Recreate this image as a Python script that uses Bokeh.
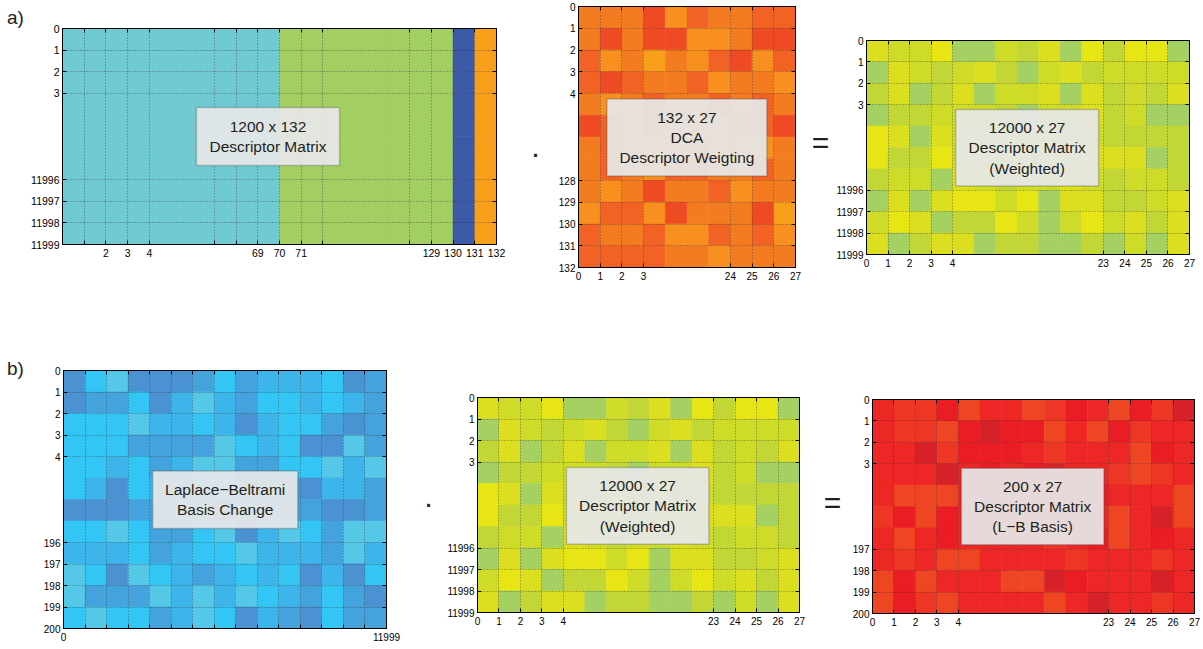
import numpy as np
from bokeh.plotting import figure
from bokeh.models import Range1d, FixedTicker, BoxAnnotation, Label, ColumnDataSource, LinearAxis
from bokeh.layouts import row, column
from bokeh.core.properties import value
from bokeh.embed import file_html
from bokeh.resources import INLINE

FONT = "Liberation Sans"

# ---------------- data ----------------
# a1: 1200 x 132 descriptor matrix (column groups)
a1_columns = [0, 0, 0, 0, 0, 0, 0, 0, 0, 0, 1, 1, 1, 1, 1, 1, 1, 1, 2, 3]
a1_nrows = 10
a1_palette = ["#6fcad1", "#a3cf62", "#3c5aa8", "#f8a01c"]
a1_xticks = [1, 2, 3, 4, 7, 8, 9, 10, 11, 12, 16, 17, 18, 19, 20]
a1_xlabels = ["", "2", "3", "4", "", "", "69", "70", "71", "", "", "129", "130", "131", "132"]
a1_yticks = [0, 1, 2, 3, 7, 8, 9, 10]
a1_ylabels = ["0", "1", "2", "3", "11996", "11997", "11998", "11999"]

# a2: 132 x 27 DCA weighting
a2_dca = [
    [2, 2, 2, 4, 1, 3, 2, 2, 3, 3],
    [2, 4, 2, 4, 4, 1, 1, 2, 4, 4],
    [3, 1, 2, 0, 2, 1, 3, 4, 1, 3],
    [3, 4, 3, 2, 2, 3, 1, 2, 2, 1],
    [2, 1, 2, 3, 2, 2, 3, 2, 3, 2],
    [4, 3, 2, 3, 2, 1, 2, 3, 3, 4],
    [2, 3, 2, 1, 2, 3, 2, 2, 1, 2],
    [2, 3, 2, 1, 3, 3, 2, 2, 3, 2],
    [2, 1, 2, 4, 2, 2, 3, 1, 2, 2],
    [1, 3, 3, 1, 4, 2, 2, 2, 4, 0],
    [3, 2, 2, 3, 1, 1, 3, 2, 3, 1],
    [3, 3, 3, 3, 2, 2, 1, 2, 2, 2],
]
a2_palette = ["#f8a01c", "#f7901e", "#f47c20", "#f16224", "#ee4b25"]
a2_xticks = [0, 1, 2, 3, 7, 8, 9, 10]
a2_xlabels = ["0", "1", "2", "3", "24", "25", "26", "27"]
a2_yticks = [0, 1, 2, 3, 4, 8, 9, 10, 11, 12]
a2_ylabels = ["0", "1", "2", "3", "4", "128", "129", "130", "131", "132"]

# a3 / b2: 12000 x 27 weighted descriptor matrix
weighted = [
    [1, 2, 2, 0, 4, 4, 2, 3, 1, 4, 0, 3, 0, 0, 4],
    [4, 1, 2, 3, 2, 1, 3, 4, 2, 1, 3, 2, 2, 2, 2],
    [3, 1, 4, 3, 1, 4, 2, 2, 1, 4, 1, 3, 2, 3, 1],
    [4, 3, 3, 2, 2, 2, 3, 4, 2, 2, 1, 3, 2, 4, 4],
    [0, 1, 4, 1, 2, 3, 2, 1, 2, 3, 2, 3, 3, 3, 3],
    [0, 3, 3, 0, 2, 1, 2, 3, 1, 2, 1, 1, 1, 4, 3],
    [3, 2, 2, 4, 1, 2, 3, 2, 2, 1, 2, 3, 2, 2, 3],
    [4, 1, 4, 1, 0, 0, 2, 0, 4, 1, 1, 3, 3, 2, 1],
    [2, 0, 1, 4, 3, 3, 0, 2, 4, 2, 0, 2, 1, 3, 1],
    [1, 4, 3, 1, 1, 4, 3, 3, 4, 4, 3, 4, 2, 4, 1],
]
weighted_palette = ["#e8e514", "#dcdf1f", "#cfdb29", "#c2d636", "#a5d062"]
w_xticks = [0, 1, 2, 3, 4, 11, 12, 13, 14, 15]
w_xlabels = ["0", "1", "2", "3", "4", "23", "24", "25", "26", "27"]
w_yticks = [0, 1, 2, 3, 7, 8, 9, 10]
w_ylabels = ["0", "1", "2", "3", "11996", "11997", "11998", "11999"]

# b1: Laplace-Beltrami basis change
b1_basis = [
    [4, 0, 1, 4, 4, 4, 3, 0, 3, 2, 2, 2, 0, 4, 3],
    [4, 3, 3, 0, 4, 2, 1, 2, 3, 0, 0, 2, 0, 2, 3],
    [0, 0, 0, 1, 2, 2, 0, 2, 4, 2, 0, 0, 3, 4, 3],
    [0, 0, 0, 3, 3, 3, 3, 1, 0, 2, 0, 4, 4, 1, 3],
    [0, 0, 2, 0, 3, 2, 1, 1, 3, 3, 0, 0, 1, 2, 1],
    [0, 2, 4, 0, 2, 3, 0, 2, 3, 2, 3, 4, 2, 2, 3],
    [4, 4, 4, 3, 3, 2, 3, 4, 2, 3, 3, 3, 4, 4, 3],
    [0, 0, 1, 0, 3, 3, 0, 1, 4, 2, 1, 0, 3, 1, 1],
    [2, 2, 2, 0, 3, 2, 0, 0, 1, 2, 2, 2, 3, 1, 2],
    [1, 0, 4, 1, 0, 2, 3, 2, 0, 2, 0, 4, 2, 4, 0],
    [1, 3, 3, 3, 1, 2, 1, 2, 1, 0, 2, 3, 0, 3, 4],
    [0, 1, 0, 0, 3, 2, 1, 0, 4, 2, 3, 4, 0, 3, 3],
]
b1_palette = ["#33c6f4", "#55c8e8", "#3eb5ea", "#44a2dc", "#4b92d2"]
b1_xticks = [0, 1, 2, 3, 4, 5, 6, 7, 8, 9, 10, 11, 12, 13, 14, 15]
b1_xlabels = ["0", "", "", "", "", "", "", "", "", "", "", "", "", "", "", "11999"]
b1_yticks = [0, 1, 2, 3, 4, 8, 9, 10, 11, 12]
b1_ylabels = ["0", "1", "2", "3", "4", "196", "197", "198", "199", "200"]

# b3: 200 x 27 descriptor matrix in L-B basis
b3_lb = [
    [2, 1, 1, 3, 0, 2, 2, 0, 1, 3, 2, 0, 3, 1, 4],
    [2, 1, 1, 0, 3, 4, 3, 3, 0, 2, 0, 3, 1, 2, 2],
    [2, 2, 4, 1, 3, 3, 3, 2, 1, 2, 2, 2, 0, 3, 2],
    [2, 2, 2, 4, 2, 3, 2, 3, 4, 2, 2, 1, 0, 1, 2],
    [2, 0, 0, 0, 2, 2, 3, 2, 2, 2, 3, 2, 2, 2, 0],
    [1, 3, 0, 3, 2, 2, 2, 3, 2, 2, 2, 0, 2, 4, 0],
    [2, 0, 2, 3, 2, 2, 2, 2, 1, 2, 3, 0, 2, 3, 2],
    [2, 1, 2, 0, 0, 2, 2, 2, 2, 1, 2, 2, 2, 1, 2],
    [0, 3, 0, 2, 2, 2, 0, 0, 4, 3, 2, 2, 2, 4, 2],
    [0, 3, 1, 0, 2, 2, 2, 2, 0, 2, 4, 2, 2, 1, 2],
]
b3_palette = ["#ee4523", "#ee3624", "#ec2725", "#ea1d24", "#d72128"]
b3_yticks = [0, 1, 2, 3, 7, 8, 9, 10]
b3_ylabels = ["0", "1", "2", "3", "197", "198", "199", "200"]

# box captions
a1_caption = ["1200 x 132", "Descriptor Matrix"]
a2_caption = ["132 x 27", "DCA", "Descriptor Weigting"]
w_caption = ["12000 x 27", "Descriptor Matrix", "(Weighted)"]
b1_caption = ["Laplace\u2212Beltrami", "Basis Change"]
b3_caption = ["200 x 27", "Descriptor Matrix", "(L\u2212B Basis)"]


def style_axis(ax, ticks, labels, standoff, size, show_labels=True):
    ax.ticker = FixedTicker(ticks=ticks)
    ax.major_tick_in = 4
    ax.major_tick_out = 0
    ax.minor_tick_in = 0
    ax.minor_tick_out = 0
    ax.major_tick_line_color = "black"
    ax.axis_line_color = "black"
    if show_labels:
        ax.major_label_overrides = {t: l for t, l in zip(ticks, labels)}
        ax.major_label_text_font = FONT
        ax.major_label_text_font_size = size
        ax.major_label_text_color = "black"
        ax.major_label_standoff = standoff
    else:
        ax.major_label_overrides = {t: "" for t in ticks}
        ax.major_label_text_font_size = "0px"
        ax.major_label_standoff = 0


def make_panel(mat, palette, fw, fh, borders, xt, xl, yt, yl, box, caption, tick_size="10px"):
    mat = np.asarray(mat)
    nrows, ncols = mat.shape
    bl, br, bt, bb = borders
    p = figure(frame_width=fw, frame_height=fh, title=None,
               x_range=Range1d(0, ncols), y_range=Range1d(nrows, 0),
               output_backend="svg", toolbar_location=None,
               min_border_left=bl, min_border_right=br,
               min_border_top=bt, min_border_bottom=bb)
    p.frame_align = False
    p.background_fill_color = "white"
    p.border_fill_color = "white"
    p.outline_line_color = "black"
    p.outline_line_width = 1

    ri, ci = np.indices(mat.shape)
    src = ColumnDataSource(dict(
        left=ci.ravel(), right=ci.ravel() + 1,
        top=ri.ravel(), bottom=ri.ravel() + 1,
        color=[palette[v] for v in mat.ravel()],
    ))
    p.quad(left="left", right="right", top="top", bottom="bottom",
           fill_color="color", line_color="color", line_width=0.6, source=src)

    style_axis(p.xaxis[0], xt, xl, 4, tick_size)
    style_axis(p.yaxis[0], yt, yl, 3, tick_size)
    top_ax = LinearAxis()
    right_ax = LinearAxis()
    style_axis(top_ax, xt, xl, 0, tick_size, show_labels=False)
    style_axis(right_ax, yt, yl, 0, tick_size, show_labels=False)
    p.add_layout(top_ax, "above")
    p.add_layout(right_ax, "right")

    for g in (p.xgrid[0], p.ygrid[0]):
        g.grid_line_color = "#202020"
        g.grid_line_dash = "1 2"
        g.grid_line_alpha = 0.7
        g.grid_line_width = 0.8
        g.level = "guide"

    x0, x1, y0, y1 = box
    p.add_layout(BoxAnnotation(left=x0, right=x1, top=y0, bottom=y1,
                               fill_color="#e6e7e8", fill_alpha=0.93,
                               line_color="#4a4a4a", line_width=1.5))
    p.add_layout(Label(x=(x0 + x1) / 2, y=(y0 + y1) / 2, text="\n".join(caption),
                       text_align="center", text_baseline="middle",
                       text_font=FONT, text_font_size="15.5px",
                       text_color="#231f20", text_line_height=1.2))
    return p


def make_symbol(text, w, h, cx, cy, size):
    s = figure(frame_width=w, frame_height=h, title=None,
               x_range=Range1d(0, w), y_range=Range1d(h, 0),
               x_axis_location=None, y_axis_location=None,
               output_backend="svg", toolbar_location=None,
               min_border=0)
    s.frame_align = False
    s.grid.visible = False
    s.outline_line_color = None
    s.background_fill_color = "white"
    s.border_fill_color = "white"
    s.text(x=[cx], y=[cy], text=[text], text_align="center", text_baseline="middle",
           text_font=value(FONT), text_font_size=value(size), text_color="#231f20")
    return s


TOP_H = 298
BOT_H = 348

a1_mat = [a1_columns for _ in range(a1_nrows)]

sa = make_symbol("a)", 26, TOP_H, 15, 17, "19px")
pa1 = make_panel(a1_mat, a1_palette, 434, 216, (36, 10, 28, 54),
                 a1_xticks, a1_xlabels, a1_yticks, a1_ylabels,
                 (6.17, 12.77, 3.66, 6.34), a1_caption, tick_size="10.5px")
sd_a = make_symbol("\u00b7", 38, TOP_H, 29, 152, "30px")
pa2 = make_panel(a2_dca, a2_palette, 217, 261, (34, 8, 6, 31),
                 a2_xticks, a2_xlabels, a2_yticks, a2_ylabels,
                 (1.31, 8.68, 4.25, 7.79), a2_caption)
se_a = make_symbol("=", 30, TOP_H, 17, 142, "30px")
pa3 = make_panel(weighted, weighted_palette, 323, 214, (32, 10, 40, 44),
                 w_xticks, w_xlabels, w_yticks, w_ylabels,
                 (4.14, 10.78, 3.22, 6.80), w_caption)

sb = make_symbol("b)", 26, BOT_H, 15, 70, "19px")
pb1 = make_panel(b1_basis, b1_palette, 323, 258, (37, 16, 72, 18),
                 b1_xticks, b1_xlabels, b1_yticks, b1_ylabels,
                 (4.14, 10.88, 4.67, 7.35), b1_caption)
sd_b = make_symbol("\u00b7", 42, BOT_H, 26, 204, "30px")
pb2 = make_panel(weighted, weighted_palette, 322, 215, (32, 8, 99, 34),
                 w_xticks, w_xlabels, w_yticks, w_ylabels,
                 (4.14, 10.78, 3.26, 6.83), w_caption)
se_b = make_symbol("=", 41, BOT_H, 25, 204, "30px")
pb3 = make_panel(b3_lb, b3_palette, 322, 214, (24, 8, 101, 33),
                 w_xticks, w_xlabels, b3_yticks, b3_ylabels,
                 (4.14, 10.78, 3.21, 6.79), b3_caption)

layout = column(row(sa, pa1, sd_a, pa2, se_a, pa3),
                row(sb, pb1, sd_b, pb2, se_b, pb3))

open("out.html", "w").write(file_html(layout, INLINE))
